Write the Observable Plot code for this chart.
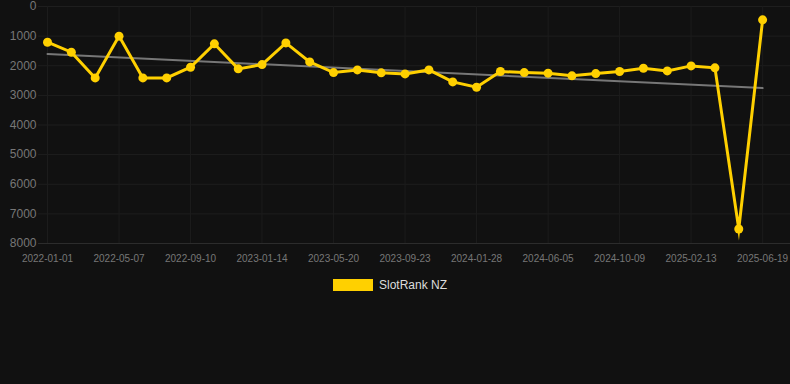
<!DOCTYPE html>
<html><head><meta charset="utf-8">
<script src="https://cdn.jsdelivr.net/npm/d3@7"></script>
<script src="https://cdn.jsdelivr.net/npm/@observablehq/plot@0.6"></script>
<style>
html,body{margin:0;padding:0;background:#111111;}
#chart{width:790px;height:384px;background:#111111;font-family:"Liberation Sans",Arial,sans-serif;overflow:hidden;}
#chart svg{display:block;}
.legend{display:flex;justify-content:center;align-items:center;margin-top:8px;padding-right:10px;color:#dddddd;font-size:12px;}
.swatch{width:40px;height:12px;background:#FFD000;margin-right:6px;}
</style></head><body><div id="chart"></div>
<script>
const dates = ["2022-01-01","2022-02-12","2022-03-26","2022-05-07","2022-06-18","2022-07-30","2022-09-10","2022-10-22","2022-12-03","2023-01-14","2023-02-25","2023-04-08","2023-05-20","2023-07-01","2023-08-12","2023-09-23","2023-11-04","2023-12-16","2024-01-28","2024-03-10","2024-04-22","2024-06-05","2024-07-17","2024-08-28","2024-10-09","2024-11-20","2025-01-01","2025-02-13","2025-03-27","2025-05-08","2025-06-19"];
const ranks = [1205,1543,2410,1000,2410,2410,2050,1260,2105,1960,1228,1870,2230,2140,2240,2275,2140,2545,2725,2195,2230,2250,2340,2265,2195,2085,2175,2005,2070,7510,450];
const xTickLabels = ["2022-01-01","2022-05-07","2022-09-10","2023-01-14","2023-05-20","2023-09-23","2024-01-28","2024-06-05","2024-10-09","2025-02-13","2025-06-19"];
const yTicks = [0,1000,2000,3000,4000,5000,6000,7000,8000];
const seriesName = "SlotRank NZ";
const color = "#FFD000";

const data = dates.map((d, i) => ({i, date: d, rank: ranks[i]}));
const xTickIdx = xTickLabels.map(l => dates.indexOf(l));

const chart = Plot.plot({
  width: 790, height: 270,
  marginLeft: 38, marginRight: 0, marginTop: 6, marginBottom: 27,
  style: {background: "#111111", color: "#777777", fontFamily: "'Liberation Sans', Arial, sans-serif", fontSize: "10px"},
  x: {domain: [-0.378, 31.17], label: null},
  y: {domain: [0, 8000], reverse: true, label: null},
  marks: [
    Plot.gridY(yTicks, {stroke: "#1e1e1e", strokeOpacity: 1}),
    Plot.gridX(xTickIdx, {stroke: "#1c1c1c", strokeOpacity: 1}),
    Plot.ruleY([8000], {stroke: "#2c2c2c"}),
    Plot.axisY(yTicks, {tickSize: 0, tickPadding: 2, fontSize: 12, tickFormat: d => String(d), label: null, fill: "#777777"}),
    Plot.axisX(xTickIdx, {tickSize: 0, tickPadding: 11, fontSize: 10, tickFormat: i => dates[i], label: null, fill: "#777777"}),
    Plot.linearRegressionY(data, {x: "i", y: "rank", ci: 0, stroke: "#777777", strokeWidth: 2}),
    Plot.line(data, {x: "i", y: "rank", stroke: color, strokeWidth: 3, strokeLinejoin: "miter", strokeMiterlimit: 10}),
    Plot.dot(data, {x: "i", y: "rank", r: 4.5, fill: color, stroke: null})
  ]
});
const root = document.getElementById("chart");
root.appendChild(chart);
const legend = document.createElement("div");
legend.className = "legend";
legend.innerHTML = `<div class="swatch"></div><span>${seriesName}</span>`;
root.appendChild(legend);
</script>
</body></html>
